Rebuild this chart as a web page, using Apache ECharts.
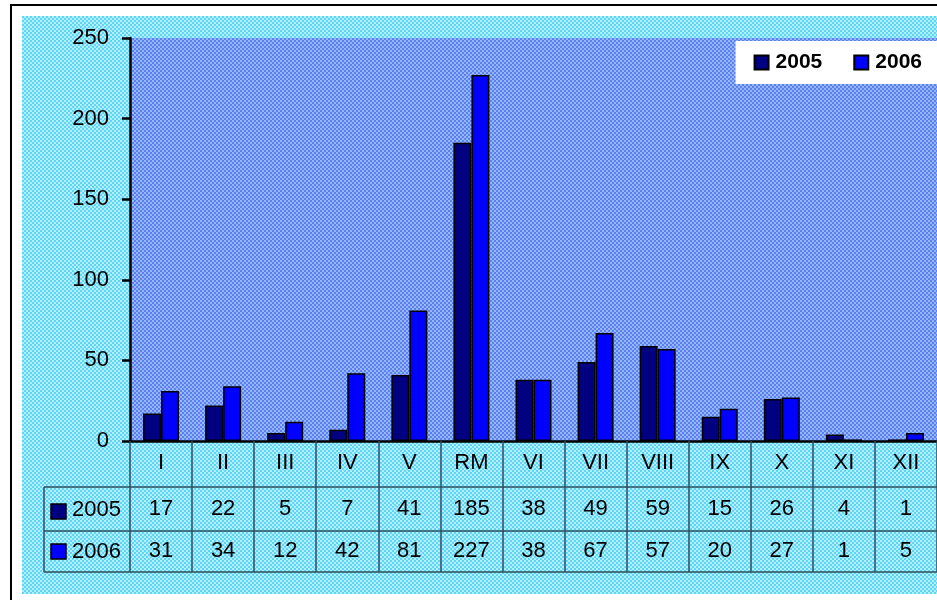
<!DOCTYPE html>
<html>
<head>
<meta charset="utf-8">
<script src="https://cdn.jsdelivr.net/npm/echarts@6/dist/echarts.min.js"></script>
<style>
  html, body { margin: 0; padding: 0; background: #fff; }
  #chart { width: 937px; height: 600px; }
</style>
</head>
<body>
<div id="chart"></div>
<script>
var months = ['I', 'II', 'III', 'IV', 'V', 'RM', 'VI', 'VII', 'VIII', 'IX', 'X', 'XI', 'XII'];
var values2005 = [17, 22, 5, 7, 41, 185, 38, 49, 59, 15, 26, 4, 1];
var values2006 = [31, 34, 12, 42, 81, 227, 38, 67, 57, 20, 27, 1, 5];
var yTicks = [0, 50, 100, 150, 200, 250];

// small checker pattern to mimic the dithered fills
function checker(c1, c2) {
  var cv = document.createElement('canvas');
  cv.width = 4; cv.height = 4;
  var ctx = cv.getContext('2d');
  ctx.fillStyle = c1; ctx.fillRect(0, 0, 4, 4);
  ctx.fillStyle = c2;
  ctx.fillRect(0, 0, 2, 2); ctx.fillRect(2, 2, 2, 2);
  return { image: cv, repeat: 'repeat' };
}
var cyanFill = checker('#5cd6f2', '#b4eefc');
var blueFill = checker('#5a80ee', '#98b6fc');

var font = 'Liberation Sans, Arial, sans-serif';
var gridLine = '#2d4f5c';

var myChart = echarts.init(document.getElementById('chart'));
var option = {
  animation: false,
  backgroundColor: '#ffffff',
  textStyle: { fontFamily: font },
  grid: { left: 130, right: -2, top: 38, bottom: 159 },
  legend: {
    data: ['2005', '2006'],
    orient: 'horizontal',
    right: 0,
    top: 41,
    backgroundColor: '#ffffff',
    padding: [11, 15, 11, 18],
    itemGap: 31,
    itemWidth: 14,
    itemHeight: 14,
    icon: 'rect',
    textStyle: { fontFamily: font, fontSize: 21, fontWeight: 'bold', color: '#000', padding: [0, 0, 0, 2] }
  },
  xAxis: [
    {
      type: 'category',
      data: months,
      axisLine: { lineStyle: { color: '#000', width: 2.5 } },
      axisTick: { show: true, length: 131, lineStyle: { color: gridLine, width: 1.5 } },
      axisLabel: { margin: 11, fontSize: 22, color: '#000', fontFamily: font }
    },
    {
      type: 'category',
      data: values2005.map(String),
      position: 'bottom',
      offset: 46,
      axisLine: { show: false },
      axisTick: { show: false },
      axisLabel: { margin: 11, fontSize: 22, color: '#000', fontFamily: font }
    },
    {
      type: 'category',
      data: values2006.map(String),
      position: 'bottom',
      offset: 88,
      axisLine: { show: false },
      axisTick: { show: false },
      axisLabel: { margin: 11, fontSize: 22, color: '#000', fontFamily: font }
    }
  ],
  yAxis: {
    type: 'value',
    min: yTicks[0],
    max: yTicks[yTicks.length - 1],
    interval: 50,
    axisLine: { show: true, lineStyle: { color: '#000', width: 2.5 } },
    axisTick: { show: true, length: 8, lineStyle: { color: '#000', width: 2.5 } },
    axisLabel: { margin: 21, fontSize: 22, color: '#000', fontFamily: font },
    splitLine: { show: false }
  },
  series: [
    {
      name: '2005',
      type: 'bar',
      data: values2005,
      barGap: '0%',
      barCategoryGap: '42%',
      itemStyle: { color: '#000080', borderColor: '#000', borderWidth: 1.5 }
    },
    {
      name: '2006',
      type: 'bar',
      data: values2006,
      itemStyle: { color: '#0000ff', borderColor: '#000', borderWidth: 1.5 }
    }
  ],
  graphic: [
    { type: 'rect', z: -20, shape: { x: 11, y: 5, width: 940, height: 600 },
      style: { fill: '#ffffff', stroke: '#000', lineWidth: 2 } },
    { type: 'rect', z: -19, shape: { x: 22, y: 16, width: 915, height: 578 },
      style: { fill: cyanFill } },
    { type: 'rect', z: -18, shape: { x: 130, y: 38, width: 810, height: 403 },
      style: { fill: blueFill } },
    { type: 'line', z: 5, shape: { x1: 44, y1: 487, x2: 940, y2: 487 }, style: { stroke: gridLine, lineWidth: 1.5 } },
    { type: 'line', z: 5, shape: { x1: 44, y1: 531, x2: 940, y2: 531 }, style: { stroke: gridLine, lineWidth: 1.5 } },
    { type: 'line', z: 5, shape: { x1: 44, y1: 572, x2: 940, y2: 572 }, style: { stroke: gridLine, lineWidth: 1.5 } },
    { type: 'line', z: 5, shape: { x1: 44, y1: 487, x2: 44, y2: 572 }, style: { stroke: gridLine, lineWidth: 1.5 } },
    { type: 'rect', z: 5, shape: { x: 51, y: 504, width: 15, height: 15 },
      style: { fill: '#000080', stroke: '#000', lineWidth: 1.5 } },
    { type: 'text', z: 5, x: 72, y: 510,
      style: { text: '2005', fontSize: 22, fontFamily: font, fill: '#000', verticalAlign: 'middle' } },
    { type: 'rect', z: 5, shape: { x: 51, y: 544, width: 15, height: 15 },
      style: { fill: '#0000ff', stroke: '#000', lineWidth: 1.5 } },
    { type: 'text', z: 5, x: 72, y: 552,
      style: { text: '2006', fontSize: 22, fontFamily: font, fill: '#000', verticalAlign: 'middle' } }
  ]
};
myChart.setOption(option);
</script>
</body>
</html>
